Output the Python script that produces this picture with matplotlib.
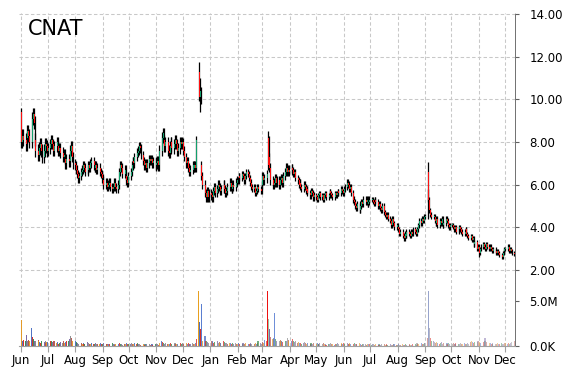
import numpy as np
import pandas as pd
import matplotlib
matplotlib.use('Agg')
import matplotlib.pyplot as plt
import matplotlib.dates as mdates

ticker = 'CNAT'
months = ['2016-06', '2016-07', '2016-08', '2016-09', '2016-10', '2016-11', '2016-12',
          '2017-01', '2017-02', '2017-03', '2017-04', '2017-05', '2017-06', '2017-07',
          '2017-08', '2017-09', '2017-10', '2017-11', '2017-12']

# daily closes, one list per month (trading days)
close_jun16 = [8.0, 8.3, 8.1, 7.9, 8.2, 8.5, 8.3, 8.0, 9.1, 9.3, 8.9, 8.1, 7.6, 7.4, 7.7, 7.9, 7.6, 7.3, 7.6, 7.9, 7.8, 7.6]
close_jul16 = [7.7, 7.9, 8.1, 7.9, 7.6, 7.8, 8.0, 7.8, 7.6, 7.7, 7.5, 7.3, 7.4, 7.2, 7.0, 7.2, 7.1, 7.6, 7.8, 7.3, 7.0]
close_aug16 = [6.9, 6.7, 6.5, 6.3, 6.4, 6.6, 6.7, 6.9, 6.8, 6.6, 6.7, 6.9, 6.8, 7.0, 7.1, 6.9, 6.8, 6.9, 6.7, 6.8, 6.6, 6.5, 6.3]
close_sep16 = [6.2, 6.0, 6.1, 5.9, 6.0, 6.1, 5.9, 5.8, 5.9, 6.1, 5.9, 5.8, 6.0, 6.6, 6.9, 6.8, 6.5, 6.7, 6.4, 6.2, 6.1, 6.4]
close_oct16 = [6.6, 6.9, 7.1, 7.0, 7.3, 7.5, 7.6, 7.8, 7.7, 7.4, 7.1, 6.9, 7.0, 6.8, 7.0, 7.2, 7.1, 7.2, 7.0, 7.1, 6.9]
close_nov16 = [7.0, 7.1, 6.9, 7.6, 8.2, 8.4, 8.1, 7.8, 8.0, 7.6, 7.5, 7.8, 8.0, 7.7, 7.9, 8.1, 7.9, 7.6, 7.7, 8.0, 7.9, 8.0]
close_dec16 = [7.6, 7.3, 7.0, 7.1, 6.8, 6.6, 6.7, 6.9, 6.8, 6.9, 6.8, 8.1, 10.1, 10.4, 10.0, 6.4, 6.0, 5.6, 5.4, 5.7, 5.4, 5.6]
close_jan17 = [5.5, 5.4, 5.7, 5.9, 5.6, 5.8, 6.0, 5.9, 5.7, 5.8, 6.0, 5.8, 5.6, 5.7, 5.9, 6.1, 5.9, 5.8, 6.0, 5.9, 6.1, 6.2]
close_feb17 = [6.2, 6.4, 6.3, 6.5, 6.4, 6.2, 6.4, 6.6, 6.5, 6.3, 6.1, 5.9, 5.8, 5.9, 5.6, 5.7, 5.9, 5.8, 5.7, 6.0]
close_mar17 = [6.4, 6.2, 6.3, 6.5, 6.9, 7.3, 6.8, 6.2, 6.0, 6.1, 6.3, 6.1, 6.2, 6.0, 6.2, 6.3, 6.1, 6.4, 6.6, 6.8, 6.6, 6.7, 6.6]
close_apr17 = [6.8, 6.7, 6.5, 6.6, 6.3, 6.2, 6.0, 6.1, 5.9, 5.8, 6.0, 5.9, 5.7, 5.8, 5.6, 5.5, 5.7, 5.6, 5.4, 5.5]
close_may17 = [5.4, 5.3, 5.5, 5.6, 5.4, 5.5, 5.3, 5.5, 5.6, 5.4, 5.5, 5.7, 5.6, 5.5, 5.4, 5.6, 5.5, 5.6, 5.7, 5.6, 5.8, 5.7, 5.6]
close_jun17 = [5.8, 5.9, 6.1, 6.0, 5.8, 5.9, 5.6, 5.3, 5.2, 5.0, 4.9, 5.1, 4.8, 5.0, 5.2, 5.1, 5.3, 5.2, 5.3, 5.1, 5.2, 5.3]
close_jul17 = [5.3, 5.2, 5.1, 5.3, 5.2, 5.0, 5.1, 4.9, 4.8, 5.0, 4.7, 4.6, 4.5, 4.6, 4.4, 4.3, 4.1, 4.4, 4.2, 4.0, 4.1]
close_aug17 = [4.0, 3.9, 3.7, 3.8, 3.6, 3.5, 3.7, 3.6, 3.8, 3.7, 3.6, 3.8, 3.7, 3.9, 3.8, 3.7, 3.9, 4.1, 4.3, 4.2, 4.4, 4.3, 4.5]
close_sep17 = [4.5, 5.5, 5.3, 4.8, 4.6, 4.5, 4.5, 4.3, 4.2, 4.4, 4.1, 4.3, 4.2, 4.4, 4.1, 4.2, 4.4, 4.3, 4.1, 4.0, 4.1]
close_oct17 = [4.1, 4.0, 3.9, 4.0, 3.8, 3.9, 4.0, 3.9, 3.8, 3.7, 3.8, 3.9, 3.7, 3.6, 3.5, 3.6, 3.4, 3.5, 3.2, 3.3, 3.0, 3.1]
close_nov17 = [2.8, 3.0, 3.1, 3.2, 3.1, 3.0, 3.2, 3.1, 3.0, 3.1, 3.0, 2.9, 3.0, 2.9, 2.8, 2.9, 2.8, 2.7, 2.6, 2.8, 2.9, 3.0]
close_dec17 = [3.0, 3.1, 2.9, 3.0, 2.9, 2.8, 2.75]

# daily volume in millions
vol_jun16 = [2.9, 0.6, 0.7, 0.6, 1.2, 0.5, 0.7, 0.6, 2.0, 1.0, 0.8, 0.6, 0.5, 0.7, 0.5, 0.4, 0.3, 0.5, 0.4, 0.6, 0.3, 0.4]
vol_jul16 = [0.4, 0.6, 0.5, 0.4, 0.3, 0.5, 0.3, 0.4, 0.2, 0.3, 0.4, 0.3, 0.5, 0.3, 0.4, 0.5, 0.6, 0.8, 1.1, 0.9, 0.6]
vol_aug16 = [0.5, 0.3, 0.4, 0.3, 0.2, 0.3, 0.2, 0.3, 0.2, 0.2, 0.4, 0.3, 0.2, 0.2, 0.3, 0.2, 0.2, 0.3, 0.2, 0.2, 0.2, 0.3, 0.2]
vol_sep16 = [0.2, 0.3, 0.2, 0.2, 0.1, 0.2, 0.2, 0.3, 0.2, 0.2, 0.1, 0.2, 0.2, 0.3, 0.2, 0.2, 0.1, 0.2, 0.2, 0.3, 0.2, 0.2]
vol_oct16 = [0.2, 0.3, 0.2, 0.2, 0.3, 0.2, 0.3, 0.2, 0.2, 0.1, 0.2, 0.2, 0.1, 0.2, 0.2, 0.2, 0.1, 0.2, 0.2, 0.1, 0.2]
vol_nov16 = [0.2, 0.2, 0.1, 0.3, 0.5, 0.4, 0.3, 0.2, 0.3, 0.2, 0.2, 0.2, 0.3, 0.2, 0.2, 0.3, 0.2, 0.2, 0.2, 0.3, 0.2, 0.2]
vol_dec16 = [0.3, 0.2, 0.3, 0.2, 0.3, 0.2, 0.2, 0.3, 0.2, 0.2, 0.3, 0.8, 6.0, 2.6, 1.9, 4.6, 0.6, 1.1, 0.6, 0.5, 0.4, 0.3]
vol_jan17 = [0.5, 0.4, 0.6, 0.3, 0.4, 0.5, 0.3, 0.4, 0.3, 0.3, 0.5, 0.4, 0.3, 0.3, 0.2, 0.3, 0.3, 0.2, 0.3, 0.2, 0.3, 0.2]
vol_feb17 = [0.2, 0.3, 0.2, 0.2, 0.3, 0.2, 0.2, 0.3, 0.2, 0.2, 0.2, 0.3, 0.2, 0.2, 0.3, 0.2, 0.3, 0.5, 0.3, 0.2]
vol_mar17 = [0.4, 0.3, 0.7, 0.5, 6.0, 3.0, 1.9, 1.0, 0.8, 0.9, 3.6, 0.8, 0.6, 0.5, 0.7, 0.5, 0.6, 0.4, 0.5, 0.6, 0.9, 0.7, 0.5]
vol_apr17 = [0.6, 0.8, 0.5, 0.4, 0.5, 0.3, 0.4, 0.3, 0.3, 0.2, 0.3, 0.4, 0.3, 0.2, 0.3, 0.2, 0.3, 0.2, 0.2, 0.3]
vol_may17 = [0.2, 0.3, 0.2, 0.2, 0.3, 0.2, 0.3, 0.2, 0.2, 0.1, 0.2, 0.2, 0.3, 0.2, 0.2, 0.1, 0.2, 0.2, 0.3, 0.2, 0.2, 0.3, 0.2]
vol_jun17 = [0.3, 0.2, 0.3, 0.2, 0.2, 0.3, 0.2, 0.2, 0.3, 0.2, 0.2, 0.2, 0.3, 0.2, 0.1, 0.2, 0.2, 0.2, 0.1, 0.2, 0.2, 0.2]
vol_jul17 = [0.1, 0.2, 0.2, 0.1, 0.2, 0.2, 0.1, 0.2, 0.1, 0.2, 0.2, 0.1, 0.1, 0.2, 0.1, 0.2, 0.1, 0.1, 0.2, 0.2, 0.1]
vol_aug17 = [0.1, 0.2, 0.1, 0.1, 0.2, 0.1, 0.1, 0.2, 0.1, 0.1, 0.2, 0.1, 0.1, 0.2, 0.2, 0.1, 0.3, 0.2, 0.2, 0.3, 0.2, 0.2, 0.3]
vol_sep17 = [0.3, 0.9, 6.0, 2.0, 0.9, 0.6, 0.5, 0.4, 0.3, 0.4, 0.3, 0.2, 0.3, 0.4, 0.2, 0.3, 0.2, 0.3, 0.2, 0.3, 0.2]
vol_oct17 = [0.2, 0.3, 0.2, 0.2, 0.3, 0.2, 0.2, 0.3, 0.2, 0.2, 0.3, 0.2, 0.2, 0.3, 0.2, 0.4, 0.5, 0.4, 0.3, 0.4, 0.5, 0.4]
vol_nov17 = [0.5, 0.4, 0.3, 0.4, 0.5, 0.9, 0.6, 0.4, 0.3, 0.3, 0.2, 0.2, 0.3, 0.2, 0.2, 0.3, 0.2, 0.2, 0.3, 0.2, 0.2, 0.3]
vol_dec17 = [0.3, 0.2, 0.3, 0.2, 0.3, 0.4, 0.6]

# typical wick length per month
wick = [0.3, 0.25, 0.2, 0.2, 0.2, 0.25, 0.2, 0.2, 0.15, 0.2, 0.15, 0.12, 0.15, 0.12, 0.12, 0.12, 0.1, 0.1, 0.1]

# days with gaps / long wicks
open_fix = {'2016-06-01': 9.4, '2016-12-19': 11.3, '2016-12-22': 6.9,
            '2017-03-07': 8.2, '2017-03-08': 8.1, '2017-09-05': 6.6}
high_fix = {'2016-06-01': 9.6, '2016-12-19': 11.75, '2016-12-20': 11.0,
            '2017-03-07': 8.5, '2017-09-04': 5.8, '2017-09-05': 7.05}
low_fix = {'2016-12-19': 9.9, '2016-12-20': 9.4, '2017-03-07': 6.7, '2017-11-01': 2.6}

# colours of the big volume bars
vol_color_fix = {'2016-12-19': '#e8a020', '2016-12-20': '#4f72c4', '2016-12-21': '#d8312a',
                 '2016-12-22': '#5b7fd0', '2017-03-07': '#ee1111', '2017-03-08': '#9fc39f',
                 '2017-03-09': '#7b6aa8', '2017-03-15': '#6f8fd8', '2017-09-05': '#98a4cc',
                 '2017-09-06': '#b8b8c8'}

closes = [close_jun16, close_jul16, close_aug16, close_sep16, close_oct16, close_nov16, close_dec16,
          close_jan17, close_feb17, close_mar17, close_apr17, close_may17, close_jun17, close_jul17,
          close_aug17, close_sep17, close_oct17, close_nov17, close_dec17]
vols = [vol_jun16, vol_jul16, vol_aug16, vol_sep16, vol_oct16, vol_nov16, vol_dec16,
        vol_jan17, vol_feb17, vol_mar17, vol_apr17, vol_may17, vol_jun17, vol_jul17,
        vol_aug17, vol_sep17, vol_oct17, vol_nov17, vol_dec17]

rows = []
for m, c, v, w in zip(months, closes, vols, wick):
    days = pd.bdate_range(m + '-01', periods=len(c))
    for d, cc, vv in zip(days, c, v):
        rows.append((d, cc, vv, w))
df = pd.DataFrame(rows, columns=['date', 'close', 'vol', 'wick']).set_index('date')
df['open'] = df['close'].shift(1)
for d, val in open_fix.items():
    df.loc[d, 'open'] = val
df['high'] = df[['open', 'close']].max(axis=1) + df['wick']
df['low'] = df[['open', 'close']].min(axis=1) - df['wick']
for d, val in high_fix.items():
    df.loc[d, 'high'] = val
for d, val in low_fix.items():
    df.loc[d, 'low'] = val

x = mdates.date2num(df.index.to_pydatetime())
up = df['close'] >= df['open']
body_col = np.where(up, '#12a06c', '#ff1010')

fig = plt.figure(figsize=(5.7, 3.7), dpi=100)
W, H = 570.0, 370.0
ax = fig.add_axes([19 / W, 87 / H, 496.3 / W, 270 / H])
axv = fig.add_axes([19 / W, 24 / H, 496.3 / W, 63 / H], sharex=ax)

grid_kw = dict(color='#c8c8c8', linewidth=0.75, linestyle=(0, (3.3, 2.2)))

# candles: black wick, coloured body just right of it
ax.vlines(x, df['low'], df['high'], color='black', linewidth=0.9, zorder=3)
ax.bar(x + 0.5, (df['close'] - df['open']).abs().clip(lower=0.04), bottom=df[['open', 'close']].min(axis=1),
       width=1.0, color=body_col, linewidth=0, zorder=4)

# volume
palette = ['#e39a2a', '#4f72c4', '#d8312a', '#3f8f55', '#7b6aa8', '#8a8a8a', '#b5554f']
vcols = [palette[i % len(palette)] for i in range(len(df))]
alphas = list(np.linspace(1.0, 0.45, len(df)))
for i, d in enumerate(df.index.strftime('%Y-%m-%d')):
    if d in vol_color_fix:
        vcols[i] = vol_color_fix[d]
        alphas[i] = 1.0
for xi, vi, ci, ai in zip(x, df['vol'], vcols, alphas):
    axv.bar(xi, vi, width=1.2, color=ci, alpha=ai, linewidth=0, zorder=3)

x0 = mdates.date2num(pd.Timestamp('2016-06-01')) - 2.6
x1 = mdates.date2num(pd.Timestamp('2016-06-01')) + 559.3
ax.set_xlim(x0, x1)
ax.set_ylim(2 - 13 / 21.33, 14 + 1 / 21.33)
axv.set_ylim(0, 63 / 9.1)

month_ticks = mdates.date2num(pd.date_range('2016-06-01', '2017-12-01', freq='MS').to_pydatetime())
for a in (ax, axv):
    a.set_xticks(month_ticks)
    a.grid(True, axis='x', **grid_kw)
    a.set_axisbelow(True)
    for s in ('top', 'left'):
        a.spines[s].set_visible(False)
    a.spines['right'].set_linestyle((0, (1, 1)))
    a.spines['right'].set_color('#707070')
    a.spines['right'].set_linewidth(0.7)
    a.yaxis.tick_right()
    a.tick_params(axis='y', length=3, width=0.8, color='#606060', pad=7, labelsize=8.5)

ax.grid(True, axis='y', **grid_kw)
ax.spines['bottom'].set_visible(False)
ax.tick_params(axis='x', length=0, labelbottom=False)
ax.set_yticks([2, 4, 6, 8, 10, 12, 14])
ax.set_yticklabels(['%.2f' % t for t in [2, 4, 6, 8, 10, 12, 14]])

axv.spines['bottom'].set_color('#a0a0a0')
axv.set_yticks([0, 5])
axv.set_yticklabels(['0.0K', '5.0M'])
axv.xaxis.set_major_formatter(mdates.DateFormatter('%b'))
axv.tick_params(axis='x', length=4, color='#a0a0a0', pad=2, labelsize=8.5)

ax.text(0.018, 0.94, ticker, transform=ax.transAxes, fontsize=15, va='center', ha='left')

fig.savefig('out.png', dpi=100)
